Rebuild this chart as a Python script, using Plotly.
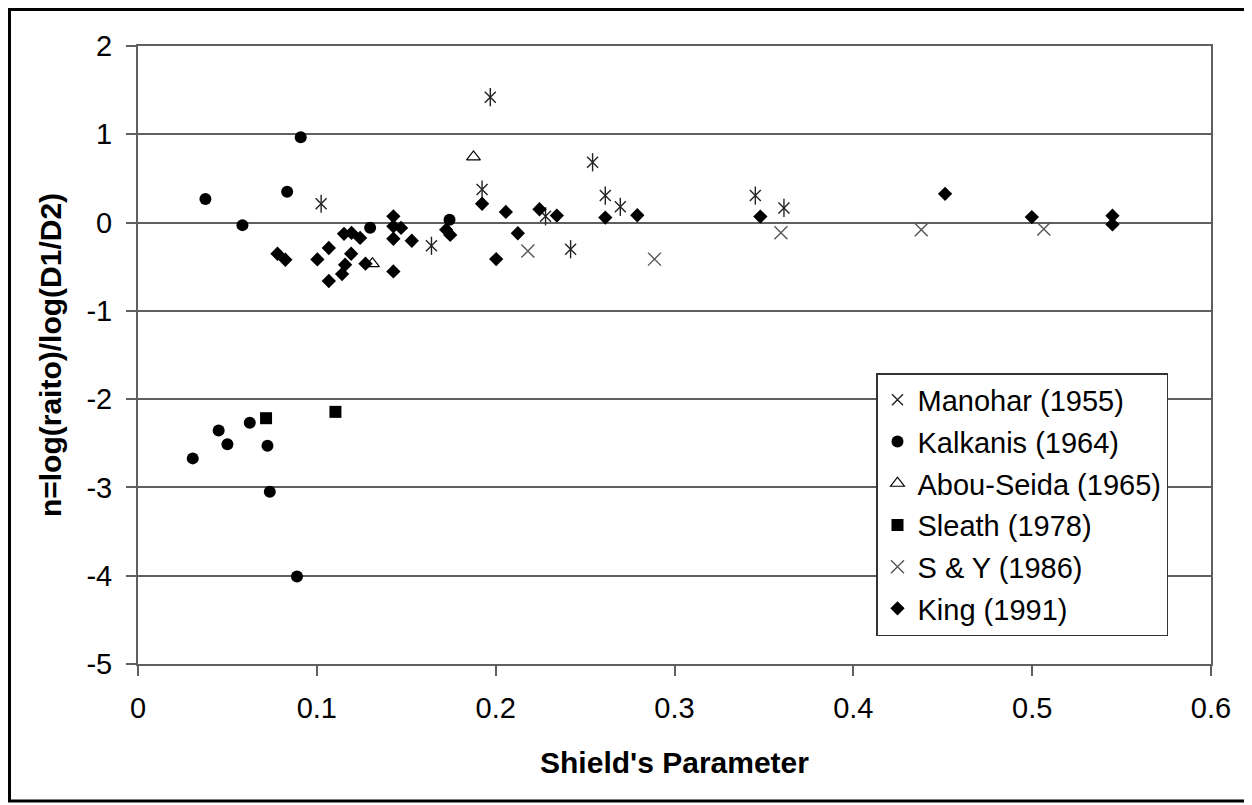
import plotly.graph_objects as go

# ---- data ----
manohar_x = [0.1024, 0.1641, 0.1924, 0.197, 0.2279, 0.2419, 0.2542, 0.2613, 0.2697, 0.3452, 0.3612]
manohar_y = [0.213, -0.263, 0.374, 1.42, 0.071, -0.302, 0.683, 0.306, 0.178, 0.306, 0.166]

kalkanis_x = [0.0306, 0.0377, 0.0451, 0.05, 0.0584, 0.0625, 0.0724, 0.0737, 0.0834, 0.0889, 0.091, 0.1298, 0.1742]
kalkanis_y = [-2.671, 0.268, -2.356, -2.511, -0.029, -2.268, -2.527, -3.048, 0.348, -4.01, 0.966, -0.059, 0.032]

abou_x = [0.1311, 0.1876]
abou_y = [-0.466, 0.744]

sleath_x = [0.0716, 0.1104]
sleath_y = [-2.216, -2.144]

sy_x = [0.218, 0.2888, 0.3595, 0.438, 0.5065]
sy_y = [-0.323, -0.414, -0.115, -0.082, -0.074]

king_x = [0.078, 0.0824, 0.1003, 0.1067, 0.1067, 0.1141, 0.1152, 0.1158, 0.1192, 0.1194, 0.1242,
          0.1272, 0.1428, 0.1428, 0.1428, 0.1428, 0.1471, 0.1531, 0.1723, 0.1746, 0.1924, 0.2003,
          0.2057, 0.2124, 0.2245, 0.2342, 0.2613, 0.2792, 0.348, 0.4513, 0.4998, 0.5449, 0.5449]
king_y = [-0.353, -0.421, -0.417, -0.288, -0.662, -0.583, -0.127, -0.478, -0.353, -0.117, -0.174,
          -0.466, 0.071, -0.042, -0.183, -0.553, -0.061, -0.206, -0.08, -0.14, 0.213, -0.414,
          0.121, -0.121, 0.151, 0.079, 0.057, 0.083, 0.068, 0.326, 0.062, 0.077, -0.021]

x_tickvals = [0, 0.1, 0.2, 0.3, 0.4, 0.5, 0.6]
x_ticktext = ["0", "0.1", "0.2", "0.3", "0.4", "0.5", "0.6"]
y_tickvals = [2, 1, 0, -1, -2, -3, -4, -5]
y_ticktext = ["2", "1", "0", "-1", "-2", "-3", "-4", "-5"]

FONT = "Liberation Sans, Arial, sans-serif"
GRID = "#5f5f5f"
TICK_SIZE = 29
TITLE_SIZE = 30

fig = go.Figure()

fig.add_trace(go.Scatter(x=manohar_x, y=manohar_y, mode="markers", name="Manohar (1955)",
                         legendgroup="g1",
                         marker=dict(symbol="x-thin-open", size=11, color="#222222",
                                     line=dict(width=1.4, color="#222222"))))
fig.add_trace(go.Scatter(x=manohar_x, y=manohar_y, mode="markers", name="Manohar (1955)",
                         legendgroup="g1", showlegend=False, hoverinfo="skip",
                         marker=dict(symbol="line-ns-open", size=13, color="#222222",
                                     line=dict(width=1.4, color="#222222"))))
fig.add_trace(go.Scatter(x=kalkanis_x, y=kalkanis_y, mode="markers", name="Kalkanis (1964)",
                         legendgroup="g2",
                         marker=dict(symbol="circle", size=12, color="black")))
fig.add_trace(go.Scatter(x=abou_x, y=abou_y, mode="markers", name="Abou-Seida (1965)",
                         legendgroup="g3",
                         marker=dict(symbol="triangle-up-open", size=12, color="black",
                                     line=dict(width=1.2, color="black"))))
fig.add_trace(go.Scatter(x=sleath_x, y=sleath_y, mode="markers", name="Sleath (1978)",
                         legendgroup="g4",
                         marker=dict(symbol="square", size=12, color="black")))
fig.add_trace(go.Scatter(x=sy_x, y=sy_y, mode="markers", name="S & Y (1986)",
                         legendgroup="g5",
                         marker=dict(symbol="x-thin-open", size=13, color="#555555",
                                     line=dict(width=1.4, color="#555555"))))
fig.add_trace(go.Scatter(x=king_x, y=king_y, mode="markers", name="King (1991)",
                         legendgroup="g6",
                         marker=dict(symbol="diamond", size=11, color="black")))

# page is rendered with an 8px body margin; work in figure coordinates
OFF = 8
W, H = 1244, 797
PL, PR, PT, PB = 138 - OFF, 1211 - OFF, 46 - OFF, 664 - OFF   # plot area (figure px)
L, R, T, B = PL, W - PR, PT, H - PB
pw, ph = PR - PL, PB - PT

def page2paper_x(px):
    return (px - OFF - PL) / pw

def page2paper_y(py):
    return (PB - (py - OFF)) / ph

fig.update_layout(
    width=W, height=H,
    margin=dict(l=L, r=R, t=T, b=B, pad=0),
    paper_bgcolor="white", plot_bgcolor="white",
    font=dict(family=FONT, size=TICK_SIZE, color="black"),
    showlegend=True,
    legend=dict(x=page2paper_x(876), y=page2paper_y(373), xanchor="left", yanchor="top",
                bgcolor="white", bordercolor="#333333", borderwidth=1.5,
                font=dict(family=FONT, size=TICK_SIZE, color="black"),
                traceorder="grouped", tracegroupgap=1, itemwidth=30),
    xaxis=dict(range=[0, 0.6], tickvals=x_tickvals, ticktext=x_ticktext,
               showgrid=False, zeroline=False, showline=True, linecolor=GRID, linewidth=2,
               mirror=True, ticks="outside", ticklen=10, tickwidth=2, tickcolor=GRID,
               ticklabelstandoff=7,
               tickfont=dict(family=FONT, size=TICK_SIZE, color="black"),
               title=dict(text="<b>Shield's Parameter</b>", standoff=29,
                          font=dict(family=FONT, size=TITLE_SIZE, color="black"))),
    yaxis=dict(range=[-5, 2], tickvals=y_tickvals, ticktext=y_ticktext,
               showgrid=True, gridcolor=GRID, gridwidth=2, zeroline=False,
               showline=True, linecolor=GRID, linewidth=2, mirror=True,
               ticks="outside", ticklen=10, tickwidth=2, tickcolor=GRID,
               ticklabelstandoff=8,
               tickfont=dict(family=FONT, size=TICK_SIZE, color="black"),
               title=dict(text="<b>n=log(raito)/log(D1/D2)</b>", standoff=16,
                          font=dict(family=FONT, size=TITLE_SIZE, color="black"))),
)

# outer black frame around the chart
fig.add_shape(type="rect", xref="paper", yref="paper",
              x0=(1.5 - PL) / pw, x1=(1238 - PL) / pw,
              y0=(PB - 793) / ph, y1=(PB - 1.5) / ph,
              line=dict(color="black", width=3), fillcolor="rgba(0,0,0,0)", layer="below")

fig.write_html("out.html")
